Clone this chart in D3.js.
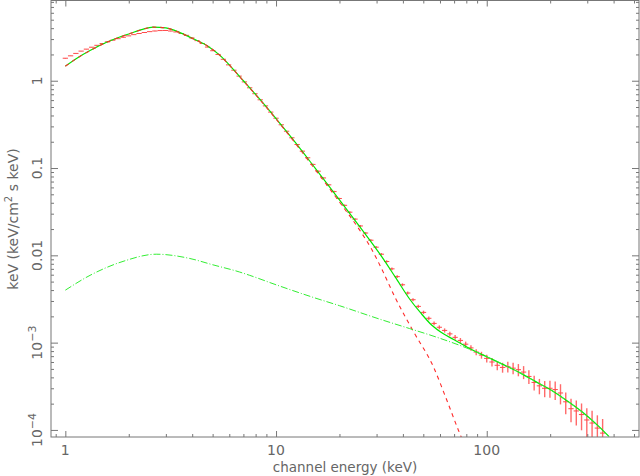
<!DOCTYPE html>
<html><head><meta charset="utf-8">
<script src="https://cdn.jsdelivr.net/npm/d3@7"></script>
<style>
body{margin:0;background:#fff}
svg{display:block}
text{font-family:"DejaVu Sans",sans-serif;fill:#666}
</style>
</head><body>
<svg id="chart" width="640" height="476"></svg>
<script>
// ---- data ----
// total model (solid green)
const modelE = [1,1.15,1.31,1.57,1.8,2.03,2.3,2.61,3.0,3.5,4.05,4.69,5.42,6.27,7,8,10,12,15.3,20,25,31.8,36.7,43.3,48.5,54.9,62,70,83.3,100,120,144,170,200,240,290,340,380];
const modelF = [1.47,1.85,2.22,2.76,3.15,3.48,3.85,4.12,4.03,3.56,3.02,2.54,1.95,1.35,1.0,0.697,0.369,0.214,0.1006,0.0433,0.0212,0.0096,0.0057,0.0031,0.0022,0.00158,0.00127,0.00108,0.00085,0.00069,0.00056,0.00045,0.00036,0.00029,0.000216,0.000154,0.00011,0.0000843];
// blackbody-like component (red dashed)
const bbE = [1,1.15,1.31,1.57,1.8,2.03,2.3,2.61,3.0,3.5,4.05,4.69,5.42,6.27,7,8,10,12,15.3,20,25,28.4,32,36.7,44.8,55.8,64.6,73.3,77];
const bbF = [1.466,1.845,2.214,2.752,3.141,3.47,3.84,4.11,4.02,3.55,3.01,2.53,1.943,1.343,0.994,0.691,0.364,0.21,0.097,0.0408,0.0193,0.0118,0.0067,0.0033,0.00135,0.00053,0.00022,0.0001,0.000075];
// comptonised component (green dash-dot)
const compE = [1,1.31,1.9,2.7,3.9,5,6.7,7.5,10,15,20,31,43,60,83,100,120,144,170,200,240,290,340,380];
const compF = [0.00399,0.0059,0.0086,0.0103,0.0092,0.0078,0.00645,0.0059,0.0046,0.0033,0.00265,0.00186,0.00145,0.00112,0.00084,0.00069,0.00056,0.00045,0.00036,0.00029,0.000216,0.000154,0.00011,0.0000843];
// data (red crosses): bin centre, value, relative error
const dataE = [1.000,1.059,1.122,1.189,1.259,1.334,1.413,1.496,1.585,1.679,1.778,1.884,1.995,2.113,2.239,2.371,2.512,2.661,2.818,2.985,3.162,3.350,3.548,3.758,3.981,4.217,4.467,4.732,5.012,5.309,5.623,5.957,6.310,6.683,7.079,7.499,7.943,8.414,8.913,9.441,10.00,10.59,11.22,11.89,12.59,13.34,14.13,14.96,15.85,16.79,17.78,18.84,19.95,21.13,22.39,23.71,25.12,26.61,28.18,29.85,31.62,33.50,35.48,37.58,39.81,42.17,44.67,47.32,50.12,53.09,56.23,59.57,63.10,66.83,70.79,74.99,79.43,84.14,89.13,94.41,100.0,105.9,112.2,118.9,125.9,133.4,141.3,149.6,158.5,167.9,177.8,188.4,199.5,211.3,223.9,237.1,251.2,266.1,281.8,298.5,316.2,335.0,354.8];
const dataF = [1.81,1.928,2.055,2.185,2.301,2.421,2.544,2.667,2.789,2.911,3.03,3.148,3.263,3.373,3.475,3.568,3.649,3.713,3.754,3.764,3.712,3.619,3.475,3.31,3.095,2.88,2.668,2.43,2.206,
 2.0,1.76,1.52,1.32,1.13,0.97,0.83,0.71,0.605,0.515,0.437,0.372,
 0.313,0.264,0.222,0.186,0.156,0.131,0.11,0.092,0.077,0.0642,0.0537,0.0448,
 0.0374,0.0312,0.026,0.0217,0.018,0.0149,0.0124,0.0103,
 0.0085,0.007,0.0057,0.0046,0.0037,0.0031,0.0026,0.00222,0.0019,0.00166,
 0.0015,0.00138,0.00126,0.00115,0.00106,0.00096,0.00087,0.00078,0.00072,0.00066,
 0.0006,0.00055,0.00052,0.00053,0.00051,0.00049,0.00046,0.00041,0.00035,0.00032,
 0.0003,0.0003,0.00029,0.000265,0.00021,0.000175,0.000165,0.00015,0.00013,0.00012,0.000105,0.000092];
const dataErr = [0.004,0.004,0.004,0.004,0.004,0.004,0.004,0.004,0.004,0.004,0.004,0.004,0.004,0.004,0.004,0.004,0.004,0.004,0.004,0.004,0.004,0.004,0.004,0.004,0.004,0.004,0.004,0.004,0.004,
 0.005,0.005,0.006,0.006,0.007,0.007,0.008,0.008,0.009,0.009,0.01,0.01,
 0.011,0.012,0.013,0.014,0.015,0.016,0.017,0.018,0.019,0.02,0.021,0.022,
 0.023,0.024,0.025,0.026,0.027,0.028,0.029,0.03,
 0.032,0.034,0.036,0.038,0.04,0.042,0.044,0.046,0.048,0.05,
 0.052,0.055,0.058,0.062,0.066,0.07,0.075,0.08,0.09,0.1,
 0.11,0.12,0.13,0.14,0.15,0.16,0.17,0.18,0.19,0.2,
 0.21,0.22,0.24,0.26,0.28,0.3,0.32,0.34,0.36,0.38,0.4,0.45];
// ticks
const xMajor = [1,10,100];
const xLabels = ["1","10","100"];
const yMajor = [1e-4,1e-3,0.01,0.1,1];
const yLabels = [["10","\u22124"],["10","\u22123"],["0.01",""],["0.1",""],["1",""]];
const xTitle = "channel energy (keV)";

// ---- layout ----
const L=51, R=639, T=0.5, B=437;
const svg = d3.select("#chart");
const x = d3.scaleLog().domain([0.855, 528]).range([L,R]);
const y = d3.scaleLog().domain([Math.pow(10,-4.081), Math.pow(10,0.919)]).range([B,T]);

svg.append("defs").append("clipPath").attr("id","clip")
  .append("rect").attr("x",L).attr("y",T).attr("width",R-L).attr("height",B-T);
const plot = svg.append("g").attr("clip-path","url(#clip)");

const zip = (a,b)=>a.map((v,i)=>[v,b[i]]);
const line = d3.line().x(d=>x(d[0])).y(d=>y(d[1])).curve(d3.curveMonotoneX);

// data crosses
const n = dataE.length;
const edges = dataE.map((e,i)=>{
  const lo = i>0 ? Math.sqrt(dataE[i-1]*e) : e*e/Math.sqrt(e*dataE[i+1]);
  const hi = i<n-1 ? Math.sqrt(dataE[i+1]*e) : e*e/Math.sqrt(e*dataE[i-1]);
  return [lo,hi];
});
const dg = plot.append("g");
dataE.forEach((e,i)=>{
  const f=dataF[i], er=dataErr[i]*f;
  dg.append("line").attr("x1",x(e)).attr("x2",x(e)).attr("y1",y(f-er)).attr("y2",y(f+er))
    .attr("stroke","#ff6a6a").attr("stroke-width",1.4);
  dg.append("line").attr("x1",x(edges[i][0])).attr("x2",x(edges[i][1])).attr("y1",y(f)).attr("y2",y(f))
    .attr("stroke","#ff4a4a").attr("stroke-width",1);
});

// models
plot.append("path").attr("d",line(zip(modelE,modelF))).attr("fill","none")
  .attr("stroke","#00e800").attr("stroke-width",1.2);
plot.append("path").attr("d",line(zip(bbE,bbF))).attr("fill","none")
  .attr("stroke","#ff2a2a").attr("stroke-width",1.1).attr("stroke-dasharray","4,4");
plot.append("path").attr("d",line(zip(compE,compF))).attr("fill","none")
  .attr("stroke","#33ee33").attr("stroke-width",1).attr("stroke-dasharray","7,2,1,2");

// frame
svg.append("rect").attr("x",L).attr("y",T).attr("width",R-L).attr("height",B-T)
  .attr("fill","none").attr("stroke","#777").attr("stroke-width",1);

// ticks
const minorX = [];
[0.1,1,10,100].forEach(d=>{for(let k=2;k<=9;k++){const v=k*d; if(v>0.855&&v<528) minorX.push(v);}});
const minorY = [];
[1e-4,1e-3,0.01,0.1,1].forEach(d=>{for(let k=2;k<=9;k++){const v=k*d; if(v<8.3) minorY.push(v);}});

function axisG(ax, tr){
  const g = svg.append("g").attr("transform",tr).call(ax);
  g.select(".domain").remove();
  g.selectAll("line").attr("stroke","#777");
  g.selectAll("text").remove();
  return g;
}
axisG(d3.axisBottom(x).tickValues(xMajor).tickSize(-6),`translate(0,${B})`);
axisG(d3.axisBottom(x).tickValues(minorX).tickSize(-3),`translate(0,${B})`);
axisG(d3.axisTop(x).tickValues(xMajor).tickSize(-6),`translate(0,${T})`);
axisG(d3.axisTop(x).tickValues(minorX).tickSize(-3),`translate(0,${T})`);
axisG(d3.axisLeft(y).tickValues(yMajor).tickSize(-7),`translate(${L},0)`);
axisG(d3.axisLeft(y).tickValues(minorY).tickSize(-3),`translate(${L},0)`);
axisG(d3.axisRight(y).tickValues(yMajor).tickSize(-7),`translate(${R},0)`);
axisG(d3.axisRight(y).tickValues(minorY).tickSize(-3),`translate(${R},0)`);

// x labels
xMajor.forEach((v,i)=>{
  svg.append("text").attr("x",x(v)).attr("y",455).attr("text-anchor","middle")
    .attr("font-size",14).text(xLabels[i]);
});
svg.append("text").attr("x",345).attr("y",472).attr("text-anchor","middle")
  .attr("font-size",13.5).text(xTitle);

// y labels (rotated)
yMajor.forEach((v,i)=>{
  const t = svg.append("text").attr("transform",`translate(42,${y(v)}) rotate(-90)`)
    .attr("text-anchor","middle").attr("font-size",14);
  t.append("tspan").text(yLabels[i][0]);
  if(yLabels[i][1]) t.append("tspan").attr("dy",-6).attr("font-size",11).text(yLabels[i][1]);
});
const yt = svg.append("text").attr("transform","translate(18,219) rotate(-90)")
  .attr("text-anchor","middle").attr("font-size",14);
yt.append("tspan").text("keV (keV/cm");
yt.append("tspan").attr("dy",-6).attr("font-size",10).text("2");
yt.append("tspan").attr("dy",6).text(" s keV)");
</script>
</body></html>
